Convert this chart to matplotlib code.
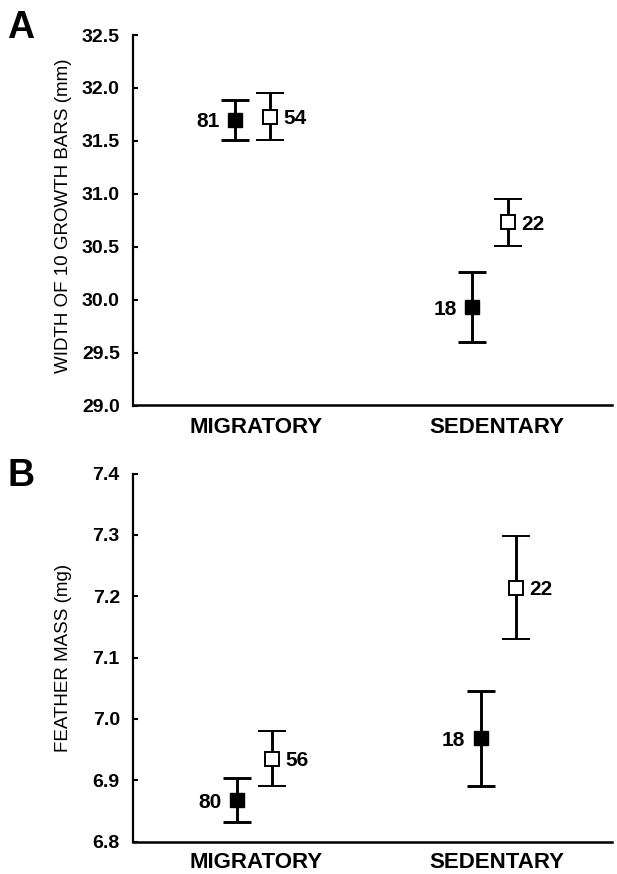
import matplotlib
matplotlib.use('Agg')
import matplotlib.pyplot as plt

plt.rcParams['font.family'] = 'Liberation Sans'

categories = ['MIGRATORY', 'SEDENTARY']

# panel A: width of 10 growth bars (mm)
width_filled = [31.70, 29.93]
width_filled_err = [0.19, 0.33]
width_filled_n = ['81', '18']
width_open = [31.73, 30.73]
width_open_err = [0.22, 0.22]
width_open_n = ['54', '22']
width_ticks = [29.0, 29.5, 30.0, 30.5, 31.0, 31.5, 32.0, 32.5]

# panel B: feather mass (mg)
mass_filled = [6.867, 6.968]
mass_filled_err = [0.036, 0.077]
mass_filled_n = ['80', '18']
mass_open = [6.935, 7.214]
mass_open_err = [0.045, 0.084]
mass_open_n = ['56', '22']
mass_ticks = [6.8, 6.9, 7.0, 7.1, 7.2, 7.3, 7.4]


def panel(ax, centers, filled, filled_err, filled_n, opn, opn_err, opn_n,
          ticks, ylabel, label_pad, ylab_y):
    off = 0.037
    xf = [c - off for c in centers]
    xo = [c + off for c in centers]
    ax.errorbar(xf, filled, yerr=filled_err, fmt='s', color='black',
                ms=10.5, mfc='black', mec='black', elinewidth=2.1,
                capsize=9.8, capthick=2.1, zorder=3)
    ax.errorbar(xo, opn, yerr=opn_err, fmt='s', color='black',
                ms=10, mfc='white', mec='black', mew=1.4, elinewidth=2.1,
                capsize=9.8, capthick=2.1, zorder=3)
    for x, y, n in zip(xf, filled, filled_n):
        ax.annotate(n, (x, y), xytext=(-11, -1.5), textcoords='offset points',
                    ha='right', va='center', fontsize=15, fontweight='bold')
    for x, y, n in zip(xo, opn, opn_n):
        ax.annotate(n, (x, y), xytext=(9.5, -1.5), textcoords='offset points',
                    ha='left', va='center', fontsize=15, fontweight='bold')

    ax.set_xlim(0, 1)
    ax.set_ylim(ticks[0], ticks[-1])
    ax.set_yticks(ticks)
    ax.set_yticklabels(['%.1f' % t for t in ticks], fontsize=14, fontweight='bold')
    ax.set_xticks([0.256, 0.760])
    ax.set_xticklabels(categories, fontsize=16, fontweight='bold')
    ax.tick_params(axis='x', length=0, pad=label_pad)
    ax.tick_params(axis='y', direction='in', length=3.6, width=1.5, pad=9.5)
    ax.spines['top'].set_visible(False)
    ax.spines['right'].set_visible(False)
    ax.spines['left'].set_linewidth(1.6)
    ax.spines['bottom'].set_linewidth(1.8)
    ax.set_ylabel(ylabel, fontsize=13.5)
    ax.yaxis.set_label_coords(-0.128, ylab_y)


def main():
    fig = plt.figure(figsize=(6.17, 8.74), dpi=100)
    ax_a = fig.add_axes([133 / 617, 1 - 405.5 / 874, 479 / 617, 370.5 / 874])
    ax_b = fig.add_axes([133 / 617, 1 - 841.5 / 874, 479 / 617, 368 / 874])

    panel(ax_a, [0.249, 0.745], width_filled, width_filled_err, width_filled_n,
          width_open, width_open_err, width_open_n, width_ticks,
          'WIDTH OF 10 GROWTH BARS (mm)', 8.5, 0.513)
    panel(ax_b, [0.2535, 0.7625], mass_filled, mass_filled_err, mass_filled_n,
          mass_open, mass_open_err, mass_open_n, mass_ticks,
          'FEATHER MASS (mg)', 7.5, 0.5)

    fig.text(7 / 617, 1 - 10 / 874, 'A', fontsize=27, fontweight='bold',
             ha='left', va='top')
    fig.text(7 / 617, 1 - 458 / 874, 'B', fontsize=27, fontweight='bold',
             ha='left', va='top')

    fig.savefig('out.png', dpi=100)
    plt.close(fig)


if __name__ == '__main__':
    main()
